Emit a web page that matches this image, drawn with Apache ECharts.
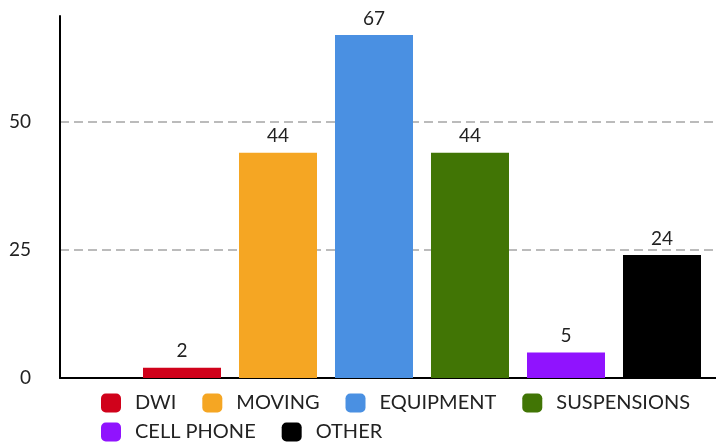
<!DOCTYPE html>
<html>
<head>
<meta charset="utf-8">
<script src="https://cdn.jsdelivr.net/npm/echarts@6/dist/echarts.min.js"></script>
<style>
html,body{margin:0;padding:0;background:#fff;}
#c{width:716px;height:442px;}
</style>
</head>
<body>
<div id="c"></div>
<script>
const categories = ['DWI', 'MOVING', 'EQUIPMENT', 'SUSPENSIONS', 'CELL PHONE', 'OTHER'];
const values = [2, 44, 67, 44, 5, 24];
const colors = ['#d0021b', '#f5a623', '#4a90e2', '#417505', '#9013fe', '#000000'];
const yTicks = [0, 25, 50];

const chart = echarts.init(document.getElementById('c'));
const font = 'Lato, "Noto Sans", sans-serif';
const series = categories.map((name, i) => ({
  name: name,
  type: 'bar',
  barWidth: 78,
  barGap: '-100%',
  data: [[i + 1, values[i]]],
  itemStyle: { color: colors[i] },
  label: {
    show: true, position: 'top', distance: 7,
    color: '#222', fontSize: 19, fontFamily: font,
    formatter: p => p.value[1]
  }
}));

const legendBase = {
  left: 101, padding: 0,
  itemWidth: 20, itemHeight: 19, itemGap: 26,
  icon: 'roundRect',
  textStyle: { fontSize: 20, color: '#222', fontFamily: font, padding: [0, 0, 0, 9] }
};

chart.setOption({
  animation: false,
  textStyle: { fontFamily: font },
  grid: { left: 60, right: 0, top: 16, bottom: 64, containLabel: false },
  legend: [
    Object.assign({}, legendBase, { data: categories.slice(0, 4), top: 393 }),
    Object.assign({}, legendBase, { data: categories.slice(4), top: 422 })
  ],
  xAxis: {
    type: 'value',
    min: -0.2708, max: 6.5625,
    axisLine: { show: true, onZero: false, lineStyle: { color: '#000', width: 2 } },
    axisTick: { show: false },
    axisLabel: { show: false },
    splitLine: { show: false }
  },
  yAxis: {
    type: 'value',
    min: 0, max: 70.7, interval: 25,
    axisLine: { show: true, onZero: false, lineStyle: { color: '#000', width: 2 } },
    axisTick: { show: false },
    axisLabel: {
      margin: 29, fontSize: 19, color: '#222', fontFamily: font,
      showMaxLabel: false,
      formatter: v => yTicks.includes(v) ? String(v) : ''
    },
    splitLine: {
      show: true, showMinLine: false, showMaxLine: false,
      lineStyle: { color: '#bbb', type: [9, 5], width: 2 }
    }
  },
  series: series
});
</script>
</body>
</html>
